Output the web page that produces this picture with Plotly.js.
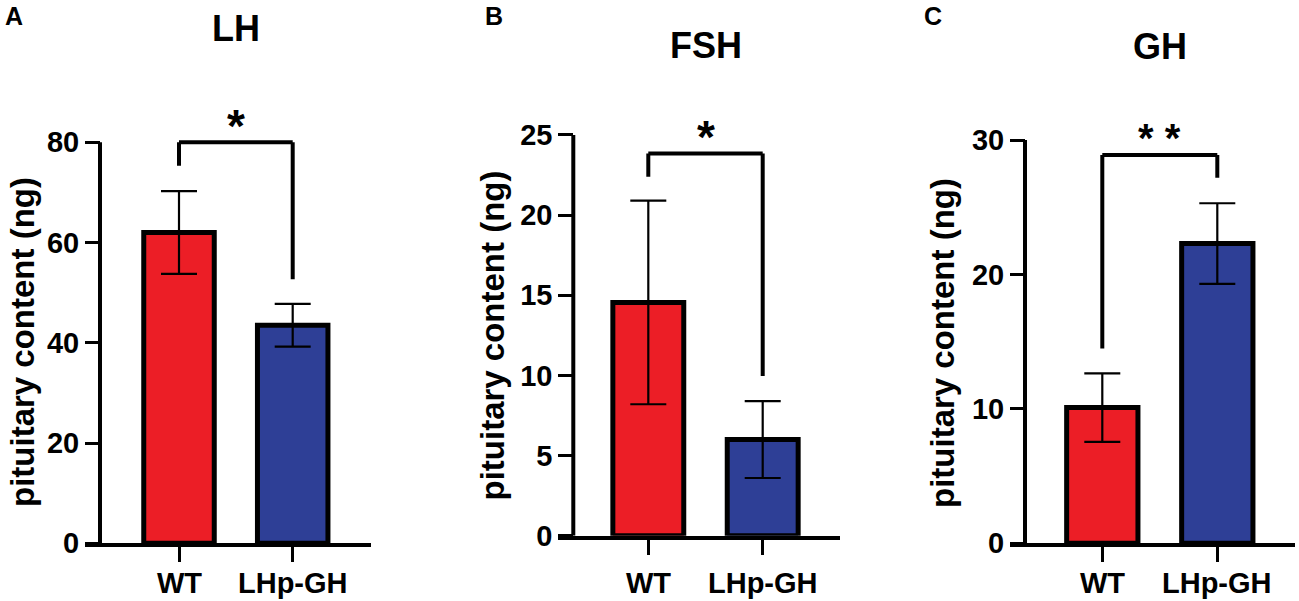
<!DOCTYPE html>
<html>
<head>
<meta charset="utf-8">
<script src="https://cdn.plot.ly/plotly-3.0.1.min.js"></script>
<style>
  html, body { margin: 0; padding: 0; background: #fff; }
  #chart { width: 1299px; height: 601px; }
</style>
</head>
<body>
<div id="chart"></div>
<script>
// groups on the x axis
var categories = ['WT', 'LHp-GH'];
var barColors = ['#EC1E26', '#2E3F96'];

// pituitary content, mean and error (ng)
var lhMean = [62.0, 43.5];
var lhErr = [8.25, 4.25];
var fshMean = [14.55, 6.0];
var fshErr = [6.35, 2.4];
var ghMean = [10.1, 22.3];
var ghErr = [2.55, 3.0];

// y ticks per panel
var lhTicks = [0, 20, 40, 60, 80];
var fshTicks = [0, 5, 10, 15, 20, 25];
var ghTicks = [0, 10, 20, 30];

// significance brackets: [top, left leg end, right leg end, star height]
var lhBracket = [80, 75.3, 52.7, 84.8];
var fshBracket = [23.85, 22.4, 9.96, 25.35];
var ghBracket = [28.9, 14.5, 27.2, 30.75];

var panelTitles = ['LH', 'FSH', 'GH'];
var panelLetters = ['A', 'B', 'C'];
var stars = ['*', '*', '* *'];

var W = 1299, H = 601;
var FONT = 'Liberation Sans, Arial, sans-serif';

// pixel layout of each panel (y axis x, x axis end, zero line, px per unit, range top, px per category)
var geo = [
  {yx: 100, xEnd: 370.7, zero: 543.3, ppu: 5.0125, top: 90, wt: 179, unit: 113.7, ytitle: [22.5, 342.5], letter: 3, title: 28.5},
  {yx: 573.3, xEnd: 840, zero: 535.7, ppu: 16.03, top: 27, wt: 648.3, unit: 114.4, ytitle: [492.5, 336], letter: 483, title: 45},
  {yx: 1025, xEnd: 1295, zero: 543.3, ppu: 13.44, top: 32, wt: 1102.3, unit: 115, ytitle: [942, 343], letter: 922, title: 46}
];

var means = [lhMean, fshMean, ghMean];
var errs = [lhErr, fshErr, ghErr];
var ticks = [lhTicks, fshTicks, ghTicks];
var brackets = [lhBracket, fshBracket, ghBracket];

var data = [];
var layout = {
  width: W, height: H,
  margin: {l: 0, r: 0, t: 0, b: 0},
  paper_bgcolor: '#fff',
  plot_bgcolor: 'rgba(0,0,0,0)',
  showlegend: false,
  bargap: 0,
  font: {family: FONT, color: '#000', weight: 'bold'},
  shapes: [],
  annotations: []
};

var tickLen = 15;

for (var p = 0; p < 3; p++) {
  var g = geo[p];
  var sfx = p === 0 ? '' : String(p + 1);
  var xa = 'x' + sfx, ya = 'y' + sfx;

  data.push({
    type: 'bar',
    x: categories,
    y: means[p],
    xaxis: xa, yaxis: ya,
    width: 0.62,
    marker: {color: barColors, line: {color: '#000', width: 5}},
    error_y: {type: 'data', array: errs[p], visible: true, color: '#000', thickness: 2.2, width: 18},
    hoverinfo: 'none'
  });

  var xStart = g.yx - tickLen;
  var yBottom = 1 - g.zero / H;
  var yTop = 1 - (g.zero - g.top * g.ppu) / H;

  // x labels are drawn as annotations below so they can sit tight to the edge
  layout['xaxis' + sfx] = {
    domain: [xStart / W, g.xEnd / W],
    anchor: ya,
    type: 'category',
    range: [-(g.wt - xStart) / g.unit, 1 + (g.xEnd - g.wt - g.unit) / g.unit],
    showline: true, linewidth: 4, linecolor: '#000',
    ticks: 'outside', ticklen: tickLen, tickwidth: 3, tickcolor: '#000',
    showticklabels: false,
    showgrid: false, zeroline: false, fixedrange: true
  };
  layout['yaxis' + sfx] = {
    domain: [yBottom, yTop],
    anchor: 'free',
    position: g.yx / W,
    range: [0, g.top],
    tickvals: ticks[p],
    showline: false,
    ticks: 'outside', ticklen: tickLen, tickwidth: 3, tickcolor: '#000',
    tickfont: {family: FONT, size: 29, weight: 'bold', color: '#000'},
    showgrid: false, zeroline: false, fixedrange: true
  };

  for (var c = 0; c < categories.length; c++) {
    layout.annotations.push({
      xref: xa, yref: 'paper', x: categories[c], y: 1 - 583 / H, text: categories[c],
      showarrow: false, xanchor: 'center', yanchor: 'middle',
      font: {family: FONT, size: 29, weight: 'bold', color: '#000'}
    });
  }

  // y axis line, stopping at the last tick
  layout.shapes.push({
    type: 'line', xref: 'paper', yref: ya,
    x0: g.yx / W, x1: g.yx / W, y0: 0, y1: ticks[p][ticks[p].length - 1],
    line: {color: '#000', width: 4}
  });

  // significance bracket
  var b = brackets[p];
  var br = {color: '#000', width: 4};
  layout.shapes.push({type: 'line', xref: xa, yref: ya, x0: categories[0], x1: categories[0], y0: b[1], y1: b[0], line: br});
  layout.shapes.push({type: 'line', xref: xa, yref: ya, x0: categories[0], x1: categories[1], y0: b[0], y1: b[0], line: br});
  layout.shapes.push({type: 'line', xref: xa, yref: ya, x0: categories[1], x1: categories[1], y0: b[0], y1: b[2], line: br});

  layout.annotations.push({
    xref: xa, yref: ya, x: 0.5, y: b[3], text: stars[p],
    showarrow: false, xanchor: 'center', yanchor: 'middle', yshift: -8,
    font: {family: FONT, size: p === 2 ? 40 : 46, weight: 'bold', color: '#000'}
  });

  // panel title
  layout.annotations.push({
    xref: xa, yref: 'paper', x: 0.5, y: 1 - g.title / H, text: panelTitles[p],
    showarrow: false, xanchor: 'center', yanchor: 'middle',
    font: {family: FONT, size: 36, weight: 'bold', color: '#000'}
  });

  // panel letter
  layout.annotations.push({
    xref: 'paper', yref: 'paper', x: g.letter / W, y: 1 - 16 / H, text: panelLetters[p],
    showarrow: false, xanchor: 'left', yanchor: 'middle',
    font: {family: FONT, size: 25, weight: 'bold', color: '#000'}
  });

  // y axis title
  layout.annotations.push({
    xref: 'paper', yref: 'paper', x: g.ytitle[0] / W, y: 1 - g.ytitle[1] / H,
    text: 'pituitary content (ng)', textangle: -90,
    showarrow: false, xanchor: 'center', yanchor: 'middle',
    font: {family: FONT, size: 33, weight: 'bold', color: '#000'}
  });
}

Plotly.newPlot('chart', data, layout, {staticPlot: true});
</script>
</body>
</html>
